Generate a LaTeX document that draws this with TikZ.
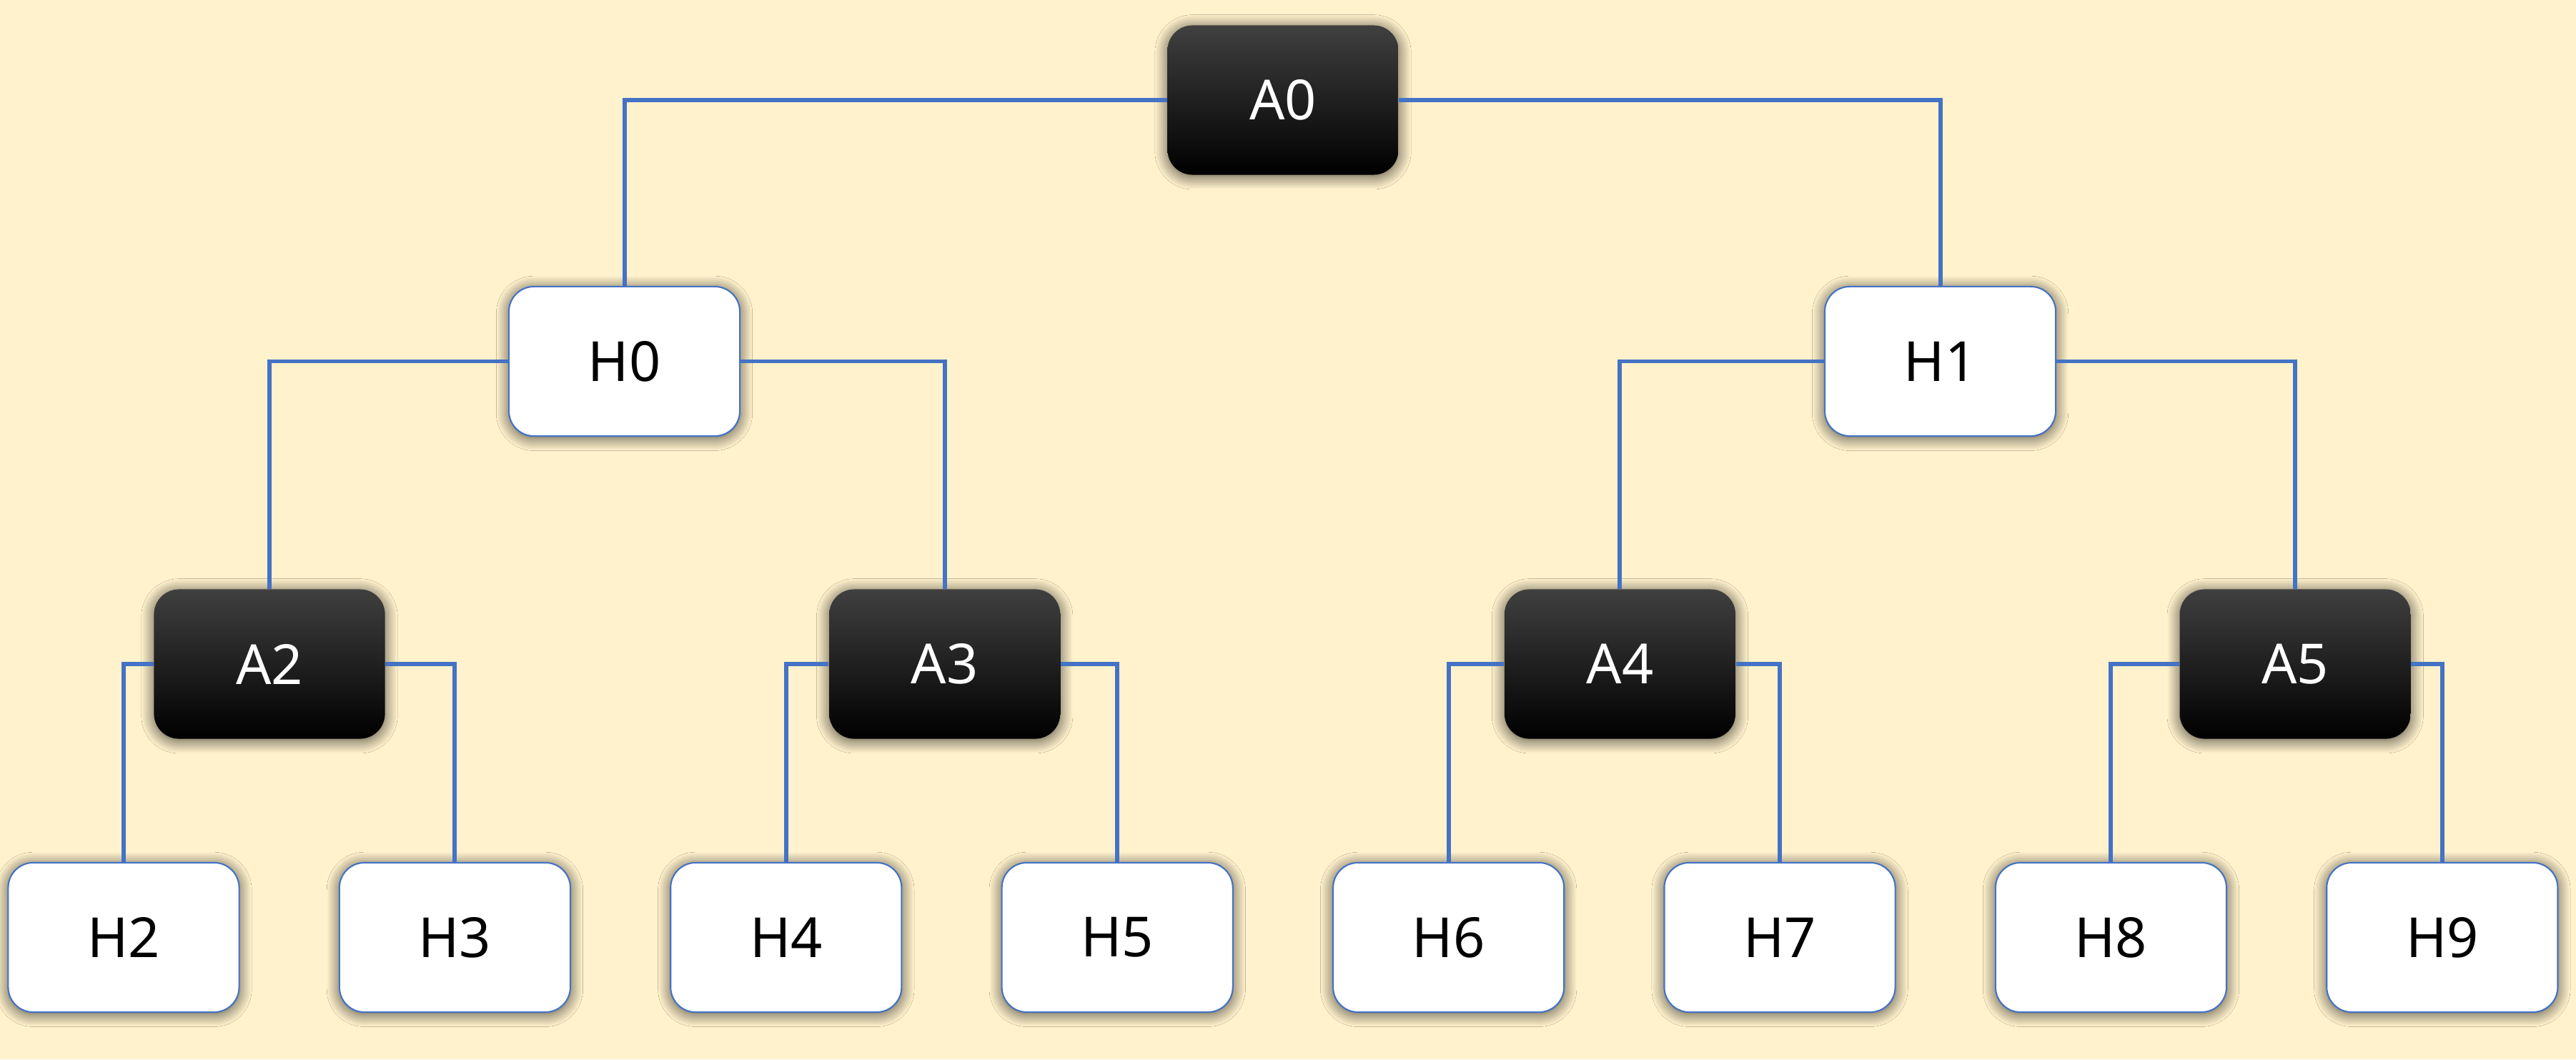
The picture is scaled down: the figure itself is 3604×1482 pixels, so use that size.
\documentclass[tikz,border=0pt]{standalone}
\usepackage{fontspec}
\setmainfont{Noto Sans}
\usepackage{xcolor}
\usetikzlibrary{shapes,shadows.blur}

\definecolor{bgyellow}{HTML}{FFF2CC}
\definecolor{linkblue}{HTML}{4472C4}

\begin{document}
\begin{tikzpicture}[x=0.01cm,y=-0.01cm]
            \tikzstyle{every node}=[rectangle,rounded corners=0.35cm,minimum width=3.23cm,minimum height=2.09cm,font=\fontsize{22}{26}\selectfont,blur shadow={shadow xshift=0pt,shadow yshift=-0.8pt,shadow blur radius=5pt,shadow blur steps=12,shadow opacity=70}];
            \tikzstyle{hbox}=[draw=linkblue,line width=0.6pt,fill=white];
            \tikzstyle{abox}=[top color=black!75,middle color=black,bottom color=black,text=white];
            \tikzstyle{link}=[draw=linkblue,line width=1.7pt];
            \useasboundingbox[fill=bgyellow] (0,0) rectangle (3604,1482);
            \node[abox] (a0) at (1795, 140) {A0};
            \node[hbox] (h0) at (873.5, 505.5) {H0};
            \node[hbox] (h1) at (2714.5, 505.5) {H1};
            \node[abox] (a2) at (377, 929) {A2};
            \node[abox] (a3) at (1321.7, 929) {A3};
            \node[abox] (a4) at (2266.4, 929) {A4};
            \node[abox] (a5) at (3211.1, 929) {A5};
            \node[hbox] (h2) at (173, 1311.5) {H2};
            \node[hbox] (h3) at (636.4, 1311.5) {H3};
            \node[hbox] (h4) at (1099.8, 1311.5) {H4};
            \node[hbox] (h5) at (1563.2, 1311.5) {H5};
            \node[hbox] (h6) at (2026.6, 1311.5) {H6};
            \node[hbox] (h7) at (2490, 1311.5) {H7};
            \node[hbox] (h8) at (2953.4, 1311.5) {H8};
            \node[hbox] (h9) at (3416.8, 1311.5) {H9};
            \path[link] (a0) -| (h0);
            \path[link] (a0) -| (h1);
            \path[link] (h0) -| (a2);
            \path[link] (h0) -| (a3);
            \path[link] (h1) -| (a4);
            \path[link] (h1) -| (a5);
            \path[link] (a2) -| (h2);
            \path[link] (a2) -| (h3);
            \path[link] (a3) -| (h4);
            \path[link] (a3) -| (h5);
            \path[link] (a4) -| (h6);
            \path[link] (a4) -| (h7);
            \path[link] (a5) -| (h8);
            \path[link] (a5) -| (h9);
        \end{tikzpicture}
\end{document}
